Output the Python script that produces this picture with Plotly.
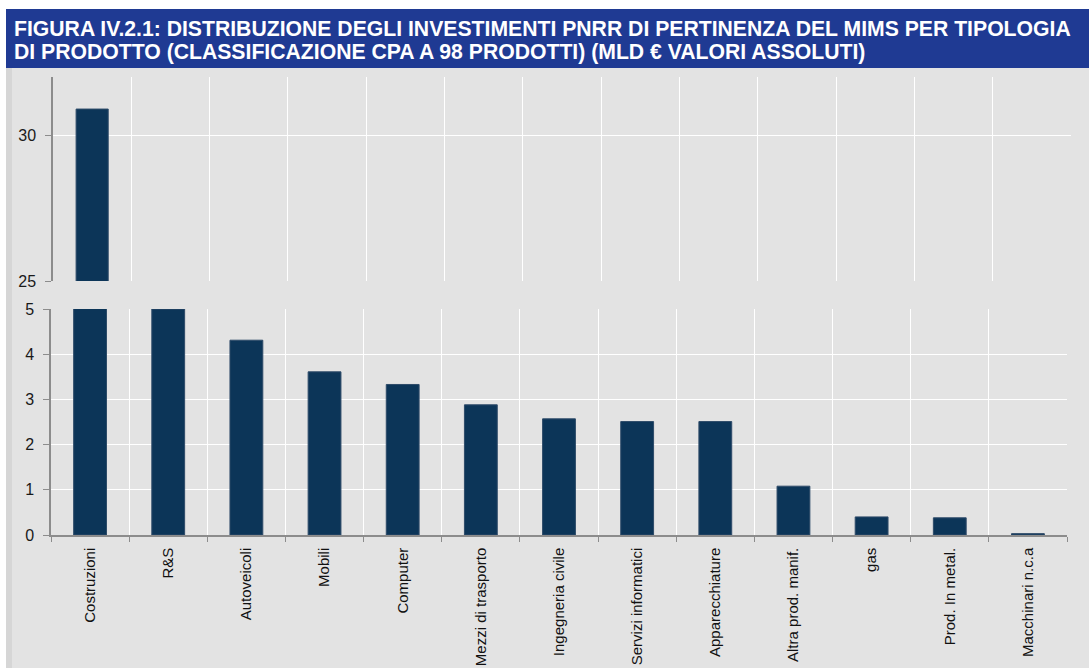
import plotly.graph_objects as go

categories = ["Costruzioni", "R&S", "Autoveicoli", "Mobili", "Computer",
              "Mezzi di trasporto", "Ingegneria civile", "Servizi informatici",
              "Apparecchiature", "Altra prod. manif.", "gas", "Prod. In metal.",
              "Macchinari n.c.a"]
values = [30.9, 5.0, 4.31, 3.61, 3.33, 2.88, 2.57, 2.51, 2.51, 1.08, 0.40, 0.38, 0.03]

title_line1 = "FIGURA IV.2.1: DISTRIBUZIONE DEGLI INVESTIMENTI PNRR DI PERTINENZA DEL MIMS PER TIPOLOGIA"
title_line2 = "DI PRODOTTO (CLASSIFICAZIONE CPA A 98 PRODOTTI) (MLD € VALORI ASSOLUTI)"

W, H = 1089, 668
def px_x(p): return p / W
def px_y(p): return 1 - p / H

BAR = "#0C3558"
GRID = "#FFFFFF"
AXIS = "#8C8C8C"
BG = "#E3E3E3"

fig = go.Figure()
fig.add_trace(go.Bar(x=categories, y=values, xaxis="x", yaxis="y",
                     marker=dict(color=BAR, line=dict(color="#2E4B69", width=1)),
                     width=0.41, showlegend=False, hoverinfo="x+y"))
fig.add_trace(go.Bar(x=categories, y=values, xaxis="x2", yaxis="y2",
                     marker=dict(color=BAR, line=dict(color="#2E4B69", width=1)),
                     width=0.42, showlegend=False, hoverinfo="x+y"))

tickfont = dict(family="Liberation Sans, Arial, sans-serif", size=16, color="#1A1A1A")
catfont = dict(family="Liberation Sans, Arial, sans-serif", size=15, color="#111111")

fig.update_layout(
    width=W, height=H,
    autosize=False,
    margin=dict(l=0, r=0, t=0, b=0, pad=0),
    paper_bgcolor="#FFFFFF",
    plot_bgcolor=BG,
    bargap=0.58,
    xaxis=dict(domain=[px_x(53), px_x(1071)], anchor="y", type="category",
               categoryorder="array", categoryarray=categories,
               tickson="boundaries", showgrid=True, gridcolor=GRID, gridwidth=1,
               showticklabels=False, ticks="", showline=False, zeroline=False,
               automargin=False, fixedrange=True),
    yaxis=dict(domain=[px_y(281), px_y(77)], anchor="x", range=[25, 32],
               tickvals=[25, 30], ticks="outside", ticklen=6, tickcolor=AXIS,
               showgrid=True, gridcolor=GRID, gridwidth=1, showline=True,
               linecolor=AXIS, linewidth=1.5, zeroline=False, tickfont=tickfont,
               ticklabelstandoff=6, automargin=False),
    xaxis2=dict(domain=[px_x(51), px_x(1067)], anchor="y2", type="category",
                categoryorder="array", categoryarray=categories,
                tickson="boundaries", showgrid=True, gridcolor=GRID, gridwidth=1,
                ticks="outside", ticklen=5, tickcolor=AXIS, tickangle=-90,
                showline=True, linecolor=AXIS, linewidth=1.5, zeroline=False,
                tickfont=catfont, ticklabelstandoff=5, automargin=False),
    yaxis2=dict(domain=[px_y(535), px_y(309)], anchor="x2", range=[0, 5],
                tickvals=[0, 1, 2, 3, 4, 5], ticks="outside", ticklen=6,
                tickcolor=AXIS, showgrid=True, gridcolor=GRID, gridwidth=1,
                showline=True, linecolor=AXIS, linewidth=1.5, zeroline=False,
                tickfont=tickfont, ticklabelstandoff=6, automargin=False),
    shapes=[
        dict(type="rect", xref="paper", yref="paper", x0=px_x(6), x1=1,
             y0=0, y1=px_y(68), fillcolor=BG, line=dict(width=0), layer="below"),
        dict(type="rect", xref="paper", yref="paper", x0=px_x(6), x1=px_x(12),
             y0=0, y1=px_y(68), fillcolor="#D6D6D6", line=dict(width=0), layer="below"),
        dict(type="rect", xref="paper", yref="paper", x0=px_x(6), x1=1,
             y0=px_y(68), y1=px_y(9), fillcolor="#1F3A93", line=dict(width=0),
             layer="below"),
    ],
    annotations=[
        dict(text=title_line1, xref="paper", yref="paper", x=px_x(12), y=px_y(29),
             xanchor="left", yanchor="middle", showarrow=False,
             font=dict(family="Liberation Sans, Arial, sans-serif", size=21.2,
                       color="#FFFFFF", weight="bold")),
        dict(text=title_line2, xref="paper", yref="paper", x=px_x(12), y=px_y(52),
             xanchor="left", yanchor="middle", showarrow=False,
             font=dict(family="Liberation Sans, Arial, sans-serif", size=21.2,
                       color="#FFFFFF", weight="bold")),
    ],
)

fig.write_html("out.html", config={"displayModeBar": False},
               post_script="document.body.style.margin='0';document.body.style.padding='0';")
